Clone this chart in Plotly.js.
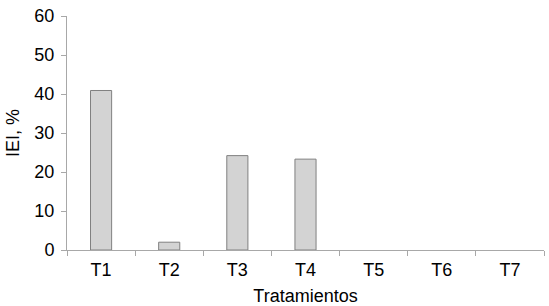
<!DOCTYPE html>
<html><head><meta charset="utf-8">
<script src="https://cdn.plot.ly/plotly-3.0.1.min.js"></script>
<style>html,body{margin:0;padding:0;background:#fff}#c{width:549px;height:306px}</style>
</head><body><div id="c"></div>
<script>
const categories = ["T1","T2","T3","T4","T5","T6","T7"];
const values = [40.9, 2.0, 24.2, 23.3, 0, 0, 0];
const yTicks = [0,10,20,30,40,50,60];

const font = {family: "Liberation Sans, Arial, sans-serif", size: 18, color: "#000"};
Plotly.newPlot("c", [{
  type: "bar", x: categories, y: values,
  marker: {color: "#d3d3d3", line: {color: "#808080", width: values.map(v => v > 0 ? 1 : 0)}},
  hoverinfo: "none"
}], {
  width: 549, height: 306,
  margin: {l: 67, r: 5, t: 16, b: 56},
  paper_bgcolor: "#fff", plot_bgcolor: "#fff",
  font: font,
  bargap: 0.69,
  showlegend: false,
  xaxis: {
    type: "category", tickson: "boundaries", ticks: "outside", ticklen: 5, tickcolor: "#a8a8a8",
    showline: true, linecolor: "#a8a8a8", linewidth: 1, showgrid: false, zeroline: false,
    ticklabelstandoff: 3,
    tickfont: font, title: {text: "Tratamientos", font: font, standoff: 11}
  },
  yaxis: {
    range: [0, 60], tickvals: yTicks, ticks: "outside", ticklen: 5, tickcolor: "#a8a8a8",
    showline: true, linecolor: "#a8a8a8", linewidth: 1, showgrid: false, zeroline: false,
    ticklabelstandoff: 3,
    tickfont: font, title: {text: "IEI, %", font: font, standoff: 10}
  }
}, {staticPlot: true});
</script></body></html>
